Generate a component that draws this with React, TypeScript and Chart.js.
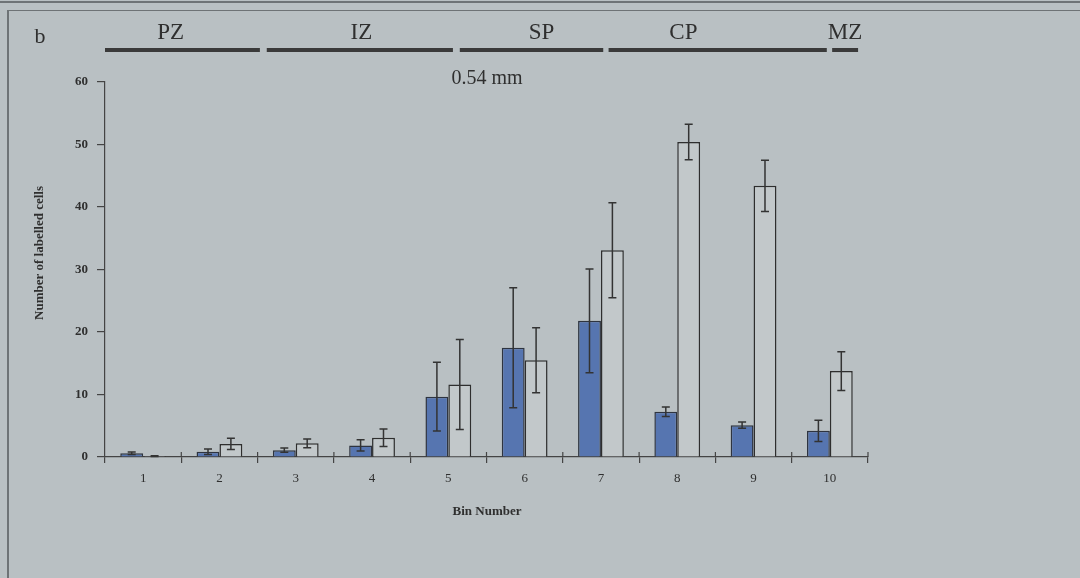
import React, { useEffect, useRef } from "react";
import { Chart, registerables } from "chart.js";

Chart.register(...registerables);

const bins = ["1", "2", "3", "4", "5", "6", "7", "8", "9", "10"];
const blueValues = [0.6, 0.85, 1.1, 1.85, 9.65, 17.5, 21.8, 7.25, 5.1, 4.2];
const blueErrors = [0.2, 0.45, 0.35, 0.9, 5.5, 9.6, 8.3, 0.75, 0.5, 1.7];
const whiteValues = [0.15, 2.1, 2.2, 3.1, 11.6, 15.5, 33.1, 50.4, 43.4, 13.75];
const whiteErrors = [0.05, 0.9, 0.7, 1.4, 7.2, 5.2, 7.6, 2.85, 4.1, 3.1];
const yTicks = [0, 10, 20, 30, 40, 50, 60];
const zoneNames = ["PZ", "IZ", "SP", "CP", "MZ"];
const zoneStarts = [0.5, 2.62, 5.15, 7.1, 10.03];
const zoneEnds = [2.53, 5.06, 7.03, 9.96, 10.37];
const zoneLabelAt = [1.36, 3.86, 6.22, 8.08, 10.2];

const BG = "#b9c0c3";
const INK = "#2f2f2f";
const SERIF = "'Liberation Serif', 'Times New Roman', serif";

const errorBarPlugin = {
  id: "errorBars",
  afterDatasetsDraw(chart: any) {
    const ctx = chart.ctx;
    const y = chart.scales.y;
    const errs = [blueErrors, whiteErrors];
    ctx.save();
    ctx.strokeStyle = "#333";
    ctx.lineWidth = 1.5;
    chart.data.datasets.forEach((ds: any, di: number) => {
      const meta = chart.getDatasetMeta(di);
      meta.data.forEach((bar: any, i: number) => {
        const v = ds.data[i];
        const e = errs[di][i];
        const top = y.getPixelForValue(v + e);
        const bot = y.getPixelForValue(Math.max(0, v - e));
        const x = bar.x;
        ctx.beginPath();
        ctx.moveTo(x, top);
        ctx.lineTo(x, bot);
        ctx.moveTo(x - 4, top);
        ctx.lineTo(x + 4, top);
        ctx.moveTo(x - 4, bot);
        ctx.lineTo(x + 4, bot);
        ctx.stroke();
      });
    });
    ctx.restore();
  },
};

const decorPlugin = {
  id: "decor",
  afterDraw(chart: any) {
    const ctx = chart.ctx;
    const x = chart.scales.x;
    const y = chart.scales.y;
    ctx.save();
    zoneNames.forEach((name, i) => {
      const x0 = x.getPixelForValue(zoneStarts[i] - 1);
      const x1 = x.getPixelForValue(zoneEnds[i] - 1);
      ctx.fillStyle = "#3a3a3a";
      ctx.fillRect(x0, 48, x1 - x0, 4);
      ctx.fillStyle = INK;
      ctx.font = `23px ${SERIF}`;
      ctx.textAlign = "center";
      ctx.textBaseline = "middle";
      ctx.fillText(name, x.getPixelForValue(zoneLabelAt[i] - 1), 33);
    });
    ctx.fillStyle = INK;
    ctx.font = `22px ${SERIF}`;
    ctx.textAlign = "center";
    ctx.textBaseline = "middle";
    ctx.fillText("b", 40, 37);
    ctx.font = `20px ${SERIF}`;
    ctx.fillText("0.54 mm", 487, 79);
    ctx.font = `bold 13px ${SERIF}`;
    ctx.fillText("Bin Number", 487, 512);
    ctx.save();
    ctx.translate(40, 253);
    ctx.rotate(-Math.PI / 2);
    ctx.fillText("Number of labelled cells", 0, 0);
    ctx.restore();
    ctx.strokeStyle = "#444";
    ctx.lineWidth = 1.2;
    const y0 = y.getPixelForValue(0);
    for (let i = 0; i < bins.length; i++) {
      const px = x.getPixelForValue(i + 0.5);
      ctx.beginPath();
      ctx.moveTo(px, y0 - 5);
      ctx.lineTo(px, y0);
      ctx.stroke();
    }
    ctx.restore();
  },
};

export default function App() {
  const ref = useRef<HTMLCanvasElement>(null);
  useEffect(() => {
    document.body.style.margin = "0";
    document.body.style.background = BG;
    const chart = new Chart(ref.current!, {
      type: "bar",
      data: {
        labels: bins,
        datasets: [
          {
            label: "blue",
            data: blueValues,
            backgroundColor: "#5675b0",
            borderColor: "#2e3440",
            borderWidth: 1.5,
            barPercentage: 1,
            categoryPercentage: 0.6,
          },
          {
            label: "white",
            data: whiteValues,
            backgroundColor: "#c2c8ca",
            borderColor: "#2e2e2e",
            borderWidth: 1.5,
            barPercentage: 1,
            categoryPercentage: 0.6,
          },
        ],
      },
      options: {
        responsive: false,
        animation: false,
        layout: { padding: { left: 0, top: 82, right: 212, bottom: 51 } },
        plugins: { legend: { display: false }, tooltip: { enabled: false } },
        scales: {
          x: {
            afterFit: (s: any) => {
              s.height = 70;
            },
            grid: {
              offset: true,
              drawOnChartArea: false,
              drawTicks: true,
              tickLength: 6,
              color: "#444",
              lineWidth: 1.2,
            },
            border: { color: "#444", width: 1.2 },
            ticks: {
              color: INK,
              padding: 8,
              font: { family: SERIF, size: 13 },
            },
          },
          y: {
            min: 0,
            max: 60,
            afterFit: (s: any) => {
              s.width = 105;
            },
            afterBuildTicks: (s: any) => {
              s.ticks = yTicks.map((v) => ({ value: v }));
            },
            grid: {
              drawOnChartArea: false,
              drawTicks: true,
              tickLength: 8,
              color: "#444",
              lineWidth: 1.2,
            },
            border: { color: "#444", width: 1.2 },
            ticks: {
              color: INK,
              padding: 9,
              font: { family: SERIF, size: 13, weight: "bold" },
            },
          },
        },
      },
      plugins: [errorBarPlugin, decorPlugin],
    } as any);
    return () => chart.destroy();
  }, []);
  return (
    <div style={{ position: "relative", width: 1080, height: 578, background: BG, overflow: "hidden" }}>
      <div style={{ position: "absolute", left: 0, top: 1, width: 1080, height: 2, background: "#6e7376" }} />
      <div style={{ position: "absolute", left: 8, top: 10, width: 1072, height: 1, background: "#6e7376" }} />
      <div style={{ position: "absolute", left: 7, top: 10, width: 2, height: 568, background: "#6e7376" }} />
      <canvas ref={ref} width={1080} height={578} style={{ position: "absolute", left: 0, top: 0 }} />
    </div>
  );
}
